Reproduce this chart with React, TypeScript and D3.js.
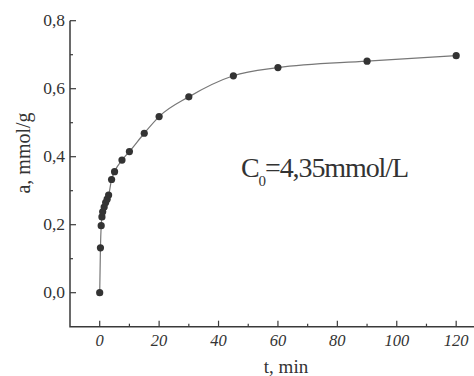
import React, { useRef, useEffect } from 'react';
import * as d3 from 'd3';

// adsorption kinetics, C0 = 4,35 mmol/L
const times = [0, 0.25, 0.5, 0.75, 1, 1.5, 2, 2.5, 3, 4, 5, 7.5, 10, 15, 20, 30, 45, 60, 90, 120];
const uptake = [0, 0.132, 0.197, 0.223, 0.238, 0.252, 0.265, 0.275, 0.287, 0.333, 0.356, 0.39, 0.415, 0.469, 0.518, 0.576, 0.638, 0.662, 0.681, 0.697];

const xMajor = [0, 20, 40, 60, 80, 100, 120];
const xMinor = [10, 30, 50, 70, 90, 110];
const yMajor = [0, 0.2, 0.4, 0.6, 0.8];
const yMinor = [0.1, 0.3, 0.5, 0.7];

const W = 474;
const H = 376;
const FONT = "'Liberation Serif', 'DejaVu Serif', serif";
const fmt = (v: number) => d3.format('.1f')(v).replace('.', ',');

const App = () => {
  const ref = useRef<SVGSVGElement>(null);

  useEffect(() => {
    const svg = d3.select(ref.current);
    svg.selectAll('*').remove();

    const x = d3.scaleLinear().domain([-10, 126]).range([70, 474]);
    const y = d3.scaleLinear().domain([-0.1, 0.8]).range([326.7, 20.7]);

    svg.append('rect').attr('width', W).attr('height', H).attr('fill', '#fff');

    const axisColor = '#3a3a3a';

    // axis lines (left + bottom only)
    svg.append('path')
      .attr('d', `M${x(-10)},${y(0.8)}V${y(-0.1)}H${W}`)
      .attr('fill', 'none')
      .attr('stroke', axisColor)
      .attr('stroke-width', 1.5);

    // x ticks, pointing up
    const gx = svg.append('g').attr('stroke', axisColor).attr('stroke-width', 1.2);
    xMajor.forEach(v => gx.append('line')
      .attr('x1', x(v)).attr('x2', x(v)).attr('y1', y(-0.1)).attr('y2', y(-0.1) - 6));
    xMinor.forEach(v => gx.append('line')
      .attr('x1', x(v)).attr('x2', x(v)).attr('y1', y(-0.1)).attr('y2', y(-0.1) - 3));

    svg.append('g').selectAll('text')
      .data(xMajor)
      .join('text')
      .attr('x', d => x(d))
      .attr('y', y(-0.1) + 19)
      .attr('text-anchor', 'middle')
      .attr('font-family', FONT)
      .attr('font-style', 'italic')
      .attr('font-size', 16.5)
      .attr('fill', '#333')
      .text(d => d);

    // y ticks, pointing right
    const gy = svg.append('g').attr('stroke', axisColor).attr('stroke-width', 1.2);
    yMajor.forEach(v => gy.append('line')
      .attr('x1', x(-10)).attr('x2', x(-10) + 6).attr('y1', y(v)).attr('y2', y(v)));
    yMinor.forEach(v => gy.append('line')
      .attr('x1', x(-10)).attr('x2', x(-10) + 3).attr('y1', y(v)).attr('y2', y(v)));

    svg.append('g').selectAll('text')
      .data(yMajor)
      .join('text')
      .attr('x', x(-10) - 5)
      .attr('y', d => y(d) + 5.5)
      .attr('text-anchor', 'end')
      .attr('font-family', FONT)
      .attr('font-size', 17.5)
      .attr('fill', '#333')
      .text(d => fmt(d));

    // Axis labels
    svg.append('text')
      .attr('x', 286)
      .attr('y', 373)
      .attr('text-anchor', 'middle')
      .attr('font-family', FONT)
      .attr('font-size', 19)
      .attr('fill', '#333')
      .text('t, min');

    svg.append('text')
      .attr('transform', 'rotate(-90)')
      .attr('x', -153)
      .attr('y', 30)
      .attr('text-anchor', 'middle')
      .attr('font-family', FONT)
      .attr('font-size', 20)
      .attr('fill', '#333')
      .text('a, mmol/g');

    // curve
    const pts = times.map((t, i) => [t, uptake[i]] as [number, number]);
    const line = d3.line<[number, number]>()
      .x(d => x(d[0]))
      .y(d => y(d[1]))
      .curve(d3.curveMonotoneX);

    svg.append('path')
      .datum(pts)
      .attr('d', line)
      .attr('fill', 'none')
      .attr('stroke', '#777')
      .attr('stroke-width', 1.2);

    svg.append('g').selectAll('circle')
      .data(pts)
      .join('circle')
      .attr('cx', d => x(d[0]))
      .attr('cy', d => y(d[1]))
      .attr('r', 3.6)
      .attr('fill', '#333');

    // annotation
    const ann = svg.append('text')
      .attr('x', 241)
      .attr('y', 177)
      .attr('font-family', FONT)
      .attr('font-size', 28)
      .attr('letter-spacing', -1.1)
      .attr('fill', '#333');
    ann.append('tspan').text('C');
    ann.append('tspan').attr('dy', 9).attr('font-size', 15).text('0');
    ann.append('tspan').attr('dy', -9).text('=4,35mmol/L');
  }, []);

  return (
    <svg ref={ref} width={W} height={H}
      style={{ position: 'absolute', left: 0, top: 0, display: 'block' }} />
  );
};

export default App;
